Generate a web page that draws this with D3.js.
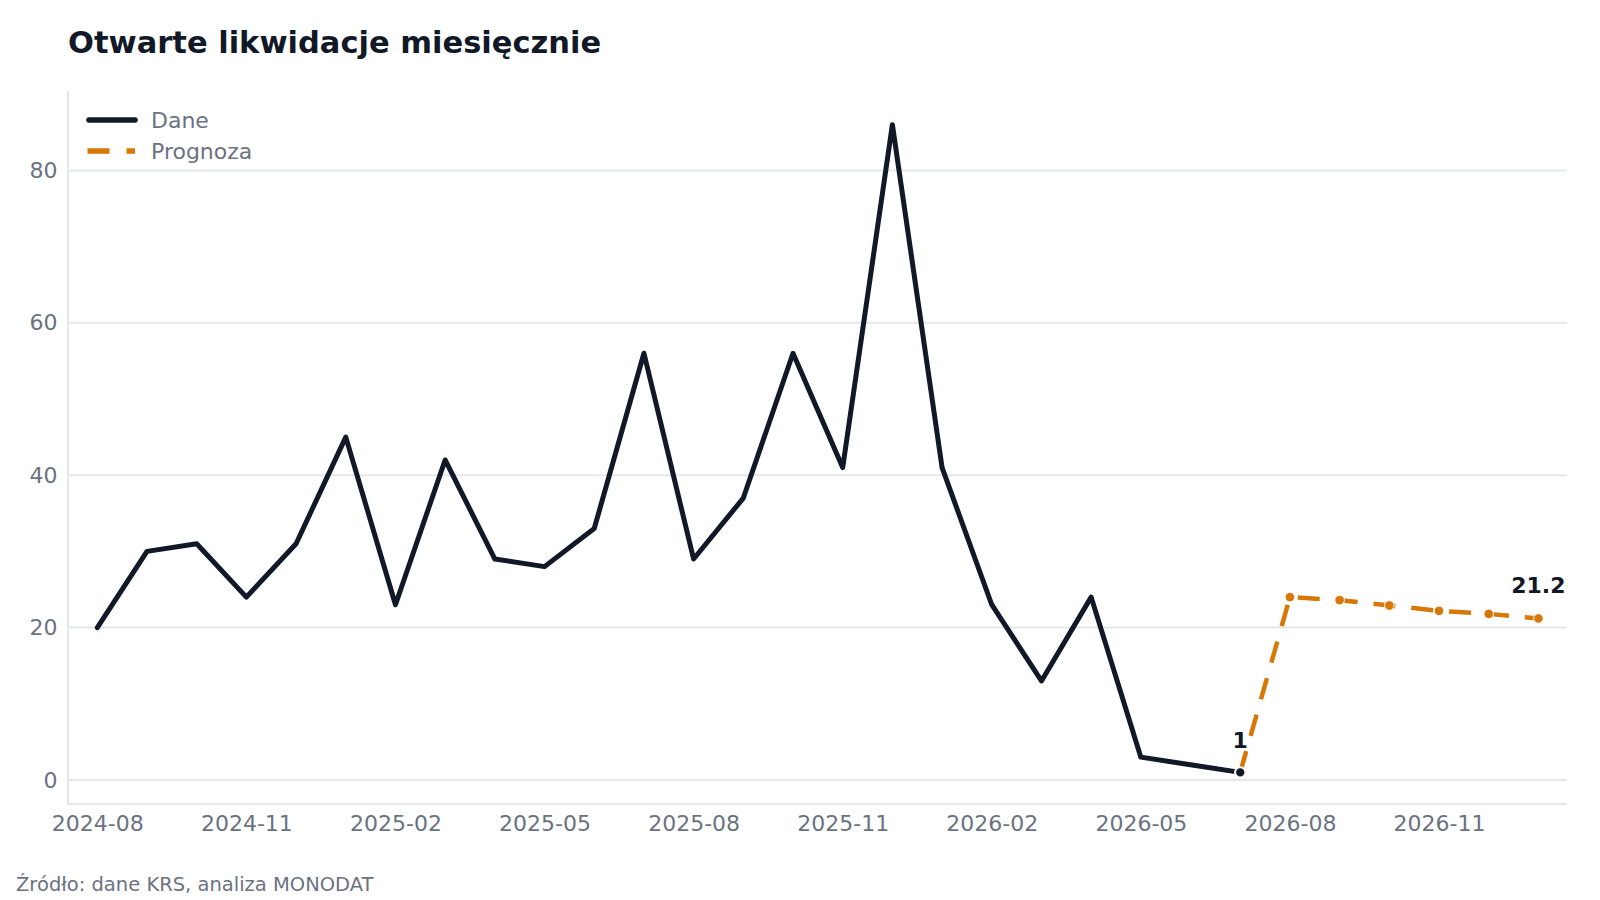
<!DOCTYPE html>
<html lang="pl">
<head>
  <meta charset="UTF-8">
  <title>Otwarte likwidacje miesięcznie</title>
  <script src="https://d3js.org/d3.v7.min.js"></script>
  <style>
    html, body {
      margin: 0;
      background: #fff;
      overflow: hidden;
      font-family: "DejaVu Sans", sans-serif;
    }
    svg {
      display: block;
    }
    .tick-label {
      font-size: 22px;
      fill: #6b7280;
    }
    .grid line {
      stroke: #e5e7eb;
      stroke-width: 2;
    }
  </style>
</head>
<body>
  <div id="chart"></div>

  <script>
    // actual monthly values, 2024-08 .. 2026-07
    const actualMonths = [
      "2024-08", "2024-09", "2024-10", "2024-11", "2024-12",
      "2025-01", "2025-02", "2025-03", "2025-04", "2025-05", "2025-06",
      "2025-07", "2025-08", "2025-09", "2025-10", "2025-11", "2025-12",
      "2026-01", "2026-02", "2026-03", "2026-04", "2026-05", "2026-06", "2026-07"
    ];
    const actualValues = [20, 30, 31, 24, 31, 45, 23, 42, 29, 28, 33, 56, 29, 37, 56, 41, 86, 41, 23, 13, 24, 3, 2, 1];

    // forecast starts from the last actual month
    const forecastMonths = ["2026-07", "2026-08", "2026-09", "2026-10", "2026-11", "2026-12", "2027-01"];
    const forecastValues = [1, 24.0, 23.6, 22.9, 22.2, 21.8, 21.2];

    const xTickLabels = ["2024-08", "2024-11", "2025-02", "2025-05", "2025-08", "2025-11", "2026-02", "2026-05", "2026-08", "2026-11"];
    const yTicks = [0, 20, 40, 60, 80];

    const W = 1600, H = 900;
    const margin = { top: 91, right: 33, bottom: 96, left: 68 };
    const width = W - margin.left - margin.right;
    const height = H - margin.top - margin.bottom;

    // months counted from the first one, the axis is evenly spaced per month
    const monthIndex = s => {
      const [yy, mm] = s.split("-").map(Number);
      const [y0, m0] = actualMonths[0].split("-").map(Number);
      return (yy - y0) * 12 + (mm - m0);
    };
    const actual = actualMonths.map((m, i) => ({ t: monthIndex(m), value: actualValues[i] }));
    const forecast = forecastMonths.map((m, i) => ({ t: monthIndex(m), value: forecastValues[i] }));

    // small padding on both ends like the original
    const x0 = d3.scaleLinear()
      .domain([actual[0].t, forecast[forecast.length - 1].t])
      .range([29.3, width - 28.6]);
    const x = d3.scaleLinear().domain([x0.invert(0), x0.invert(width)]).range([0, width]);

    const y = d3.scaleLinear().domain([-3.15, 90.42]).range([height, 0]);

    const svg = d3.select("#chart")
      .append("svg")
      .attr("width", W)
      .attr("height", H);

    // title
    svg.append("text")
      .attr("x", 68)
      .attr("y", 53)
      .style("font-size", "30.5px")
      .style("font-weight", "bold")
      .style("fill", "#111827")
      .text("Otwarte likwidacje miesięcznie");

    const g = svg.append("g")
      .attr("transform", `translate(${margin.left},${margin.top})`);

    // grid
    g.append("g")
      .attr("class", "grid")
      .selectAll("line")
      .data(yTicks)
      .join("line")
      .attr("x1", 0)
      .attr("x2", width)
      .attr("y1", d => y(d))
      .attr("y2", d => y(d));

    // spines
    g.append("line")
      .attr("x1", 0).attr("x2", 0)
      .attr("y1", 0).attr("y2", height)
      .attr("stroke", "#e5e7eb").attr("stroke-width", 2);
    g.append("line")
      .attr("x1", 0).attr("x2", width)
      .attr("y1", height).attr("y2", height)
      .attr("stroke", "#e5e7eb").attr("stroke-width", 2);

    // y axis
    const yAxis = g.append("g")
      .call(d3.axisLeft(y).tickValues(yTicks).tickSize(0).tickPadding(10.5));
    yAxis.select(".domain").remove();
    yAxis.selectAll("text")
      .attr("class", "tick-label")
      .style("font-family", "DejaVu Sans, sans-serif");

    // x axis
    const xAxis = g.append("g")
      .attr("transform", `translate(0,${height})`)
      .call(d3.axisBottom(x)
        .tickValues(xTickLabels.map(monthIndex))
        .tickFormat((d, i) => xTickLabels[i])
        .tickSize(0)
        .tickPadding(11));
    xAxis.select(".domain").remove();
    xAxis.selectAll("text")
      .attr("class", "tick-label")
      .style("font-family", "DejaVu Sans, sans-serif");

    const line = d3.line()
      .x(d => x(d.t))
      .y(d => y(d.value));

    // forecast line
    g.append("path")
      .datum(forecast)
      .attr("fill", "none")
      .attr("stroke", "#d97706")
      .attr("stroke-width", 4.5)
      .attr("stroke-dasharray", "22,16")
      .attr("d", line);

    g.selectAll("circle.fc")
      .data(forecast.slice(1))
      .join("circle")
      .attr("class", "fc")
      .attr("cx", d => x(d.t))
      .attr("cy", d => y(d.value))
      .attr("r", 4.8)
      .attr("fill", "#d97706")
      .attr("stroke", "#fff")
      .attr("stroke-width", 1);

    // actual line
    g.append("path")
      .datum(actual)
      .attr("fill", "none")
      .attr("stroke", "#111827")
      .attr("stroke-width", 5)
      .attr("stroke-linejoin", "round")
      .attr("stroke-linecap", "round")
      .attr("d", line);

    const last = actual[actual.length - 1];
    g.append("circle")
      .attr("cx", x(last.t))
      .attr("cy", y(last.value))
      .attr("r", 5.2)
      .attr("fill", "#111827")
      .attr("stroke", "#fff")
      .attr("stroke-width", 2);

    // value labels
    g.append("text")
      .attr("x", x(last.t))
      .attr("y", y(last.value) - 24)
      .attr("text-anchor", "middle")
      .style("font-size", "22px")
      .style("font-weight", "bold")
      .style("fill", "#111827")
      .text(d3.format("d")(last.value));

    const fLast = forecast[forecast.length - 1];
    g.append("text")
      .attr("x", x(fLast.t))
      .attr("y", y(fLast.value) - 25)
      .attr("text-anchor", "middle")
      .style("font-size", "22px")
      .style("font-weight", "bold")
      .style("fill", "#111827")
      .text(fLast.value.toFixed(1));

    // legend
    const legend = g.append("g").attr("transform", "translate(21,29)");
    legend.append("line")
      .attr("x1", 0).attr("x2", 46)
      .attr("y1", 0).attr("y2", 0)
      .attr("stroke", "#111827")
      .attr("stroke-width", 5.5)
      .attr("stroke-linecap", "round");
    legend.append("text")
      .attr("x", 62).attr("y", 0)
      .attr("dy", "0.35em")
      .style("font-size", "22px")
      .style("fill", "#6b7280")
      .text("Dane");
    legend.append("line")
      .attr("x1", -1.5).attr("x2", 46)
      .attr("y1", 31).attr("y2", 31)
      .attr("stroke", "#d97706")
      .attr("stroke-width", 5.5)
      .attr("stroke-dasharray", "22,17");
    legend.append("text")
      .attr("x", 62).attr("y", 31)
      .attr("dy", "0.35em")
      .style("font-size", "22px")
      .style("fill", "#6b7280")
      .text("Prognoza");

    // source
    svg.append("text")
      .attr("x", 16)
      .attr("y", 891)
      .style("font-size", "19.5px")
      .style("fill", "#6b7280")
      .text("Źródło: dane KRS, analiza MONODAT");
  </script>
</body>
</html>
